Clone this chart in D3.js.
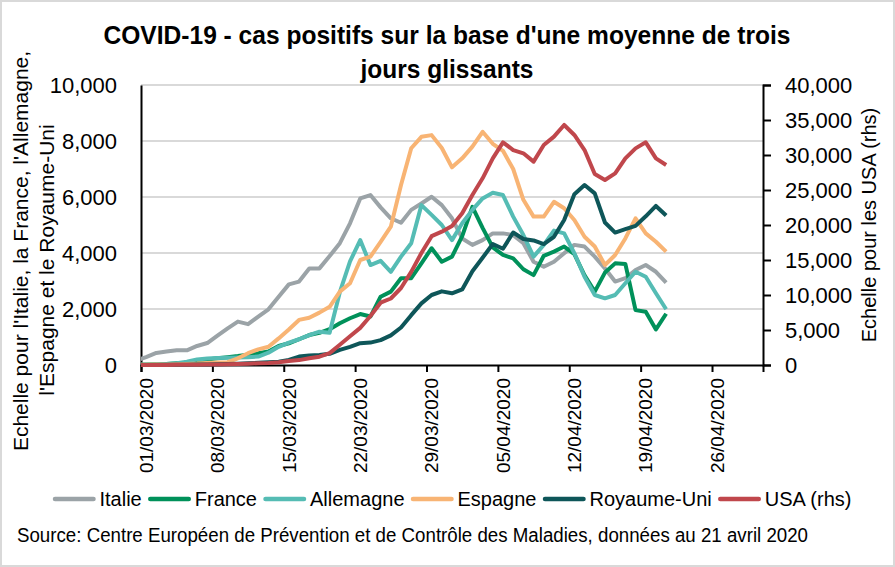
<!DOCTYPE html>
<html>
<head>
<meta charset="utf-8">
<script src="https://cdn.jsdelivr.net/npm/d3@7"></script>
<style>
  body { margin: 0; background: #fff; }
  text { font-family: "Liberation Sans", Arial, sans-serif; fill: #000; }
</style>
</head>
<body>
<div id="chart"></div>
<script>
// daily values, 29/02/2020 -> 21/04/2020 (3-day moving average)
const startDay = new Date(2020, 1, 29);
const endDay = new Date(2020, 3, 22);
const dates = d3.timeDay.range(startDay, endDay);

const italie = [150, 285, 430, 480, 525, 525, 680, 785, 1050, 1310, 1550, 1460, 1725, 1990, 2440, 2880, 2980, 3450, 3450, 3890, 4350, 5060, 5950, 6070, 5630, 5240, 5080, 5540, 5770, 6010, 5710, 5240, 4520, 4290, 4460, 4700, 4700, 4640, 4350, 3690, 3510, 3690, 3990, 4290, 4230, 3870, 3450, 2980, 3100, 3390, 3570, 3330, 2940];
const france = [10, 20, 30, 40, 60, 80, 150, 200, 240, 280, 320, 370, 420, 480, 680, 775, 920, 1070, 1150, 1280, 1490, 1670, 1820, 1730, 2440, 2620, 3100, 3100, 3630, 4170, 3690, 3870, 4600, 5650, 4900, 4200, 3930, 3810, 3420, 3210, 3900, 4050, 4230, 3960, 3200, 2620, 3300, 3630, 3610, 1960, 1900, 1270, 1830];
const allemagne = [5, 10, 20, 40, 60, 120, 200, 230, 250, 260, 270, 280, 300, 440, 650, 800, 920, 1070, 1190, 1150, 2600, 3700, 4460, 3570, 3720, 3330, 3870, 4350, 5710, 5360, 5000, 4460, 5060, 5540, 5950, 6150, 6070, 5300, 4640, 3870, 4290, 4800, 4700, 3990, 3150, 2500, 2380, 2500, 2920, 3330, 3150, 2560, 1990];
const espagne = [5, 10, 15, 20, 30, 40, 50, 70, 90, 100, 240, 420, 560, 650, 950, 1270, 1610, 1690, 1870, 2080, 2620, 2920, 3750, 3870, 4400, 4940, 6430, 7740, 8150, 8210, 7750, 7060, 7380, 7800, 8330, 7900, 7650, 7000, 5900, 5300, 5300, 5830, 5600, 5180, 4580, 4230, 3570, 3930, 4520, 5240, 4700, 4400, 4050];
const royaumeUni = [2, 3, 4, 5, 8, 10, 15, 20, 25, 35, 45, 60, 80, 100, 120, 180, 300, 340, 360, 400, 540, 650, 780, 800, 890, 1060, 1340, 1780, 2200, 2500, 2630, 2560, 2700, 3350, 3830, 4320, 4150, 4730, 4500, 4450, 4320, 4580, 5180, 6100, 6430, 6130, 5090, 4730, 4850, 4970, 5310, 5680, 5340];
const usa = [5, 8, 10, 15, 20, 30, 40, 60, 80, 100, 130, 190, 250, 300, 400, 570, 700, 960, 1190, 1700, 2900, 4100, 5300, 7000, 8900, 9500, 11000, 13300, 16000, 18400, 19050, 19860, 21670, 24290, 26670, 29520, 31810, 30710, 30240, 29050, 31430, 32620, 34290, 32860, 30710, 27290, 26430, 27380, 29520, 30950, 31810, 29520, 28570];

const xTickLabels = ['01/03/2020', '08/03/2020', '15/03/2020', '22/03/2020', '29/03/2020', '05/04/2020', '12/04/2020', '19/04/2020', '26/04/2020'];
const leftTicks = [0, 2000, 4000, 6000, 8000, 10000];
const rightTicks = [0, 5000, 10000, 15000, 20000, 25000, 30000, 35000, 40000];

const series = [
  { name: 'Italie', values: italie, color: '#9ba3a7', axis: 'left' },
  { name: 'France', values: france, color: '#00915a', axis: 'left' },
  { name: 'Allemagne', values: allemagne, color: '#55bcb4', axis: 'left' },
  { name: 'Espagne', values: espagne, color: '#f8b474', axis: 'left' },
  { name: 'Royaume-Uni', values: royaumeUni, color: '#0e5659', axis: 'left' },
  { name: 'USA (rhs)', values: usa, color: '#c0474c', axis: 'right' }
];

const width = 895, height = 567;
const plot = { left: 141, right: 763, top: 85, bottom: 365 };
const parseDay = d3.timeParse('%d/%m/%Y');
const fmt = d3.format(',');

const x = d3.scaleTime()
  .domain([new Date(2020, 2, 1), new Date(2020, 4, 1)])
  .range([plot.left, plot.right]);
const yL = d3.scaleLinear().domain([0, 10000]).range([plot.bottom, plot.top]);
const yR = d3.scaleLinear().domain([0, 40000]).range([plot.bottom, plot.top]);
// each day sits in the middle of its slot
const mid = d => d3.timeHour.offset(d, 12);

const svg = d3.select('#chart').append('svg')
  .attr('width', width)
  .attr('height', height);

svg.append('rect')
  .attr('x', 1).attr('y', 1)
  .attr('width', width - 2).attr('height', height - 2)
  .attr('fill', '#fff')
  .attr('stroke', '#d9d9d9')
  .attr('stroke-width', 2);

// title
const title = svg.append('text')
  .attr('text-anchor', 'middle')
  .style('font-weight', 'bold')
  .style('font-size', '26px');
title.append('tspan').attr('x', 447).attr('y', 44)
  .attr('textLength', 687).attr('lengthAdjust', 'spacingAndGlyphs')
  .text("COVID-19 - cas positifs sur la base d'une moyenne de trois");
title.append('tspan').attr('x', 447).attr('y', 78)
  .attr('textLength', 173).attr('lengthAdjust', 'spacingAndGlyphs')
  .text('jours glissants');

// gridlines
svg.append('g')
  .selectAll('line')
  .data(leftTicks.filter(d => d > 0))
  .join('line')
  .attr('x1', plot.left).attr('x2', plot.right)
  .attr('y1', d => yL(d)).attr('y2', d => yL(d))
  .attr('stroke', '#d9d9d9')
  .attr('stroke-width', 2);

// left axis
const gL = svg.append('g')
  .attr('transform', `translate(${plot.left},0)`)
  .call(d3.axisLeft(yL).tickValues(leftTicks).tickSize(0).tickPadding(24).tickFormat(fmt));
gL.select('.domain').attr('stroke', '#000').attr('stroke-width', 2);
gL.selectAll('text').style('font-size', '22px').style('font-family', '"Liberation Sans", Arial, sans-serif');

// right axis
const gR = svg.append('g')
  .attr('transform', `translate(${plot.right},0)`)
  .call(d3.axisRight(yR).tickValues(rightTicks).tickSizeOuter(0).tickSize(8).tickPadding(14).tickFormat(fmt));
gR.select('.domain').attr('stroke', '#000').attr('stroke-width', 2);
gR.selectAll('line').attr('stroke', '#000').attr('stroke-width', 2);
gR.selectAll('text').style('font-size', '22px').style('font-family', '"Liberation Sans", Arial, sans-serif');

// bottom axis
const weekDates = xTickLabels.map(parseDay);
const gB = svg.append('g')
  .attr('transform', `translate(0,${plot.bottom})`)
  .call(d3.axisBottom(x).tickValues(weekDates).tickSizeOuter(0).tickSize(7).tickFormat(''));
gB.select('.domain').attr('stroke', '#000').attr('stroke-width', 2);
gB.selectAll('line').attr('stroke', '#000').attr('stroke-width', 2);

svg.append('g')
  .selectAll('text')
  .data(xTickLabels)
  .join('text')
  .attr('transform', d => `translate(${x(mid(parseDay(d)))},378) rotate(-90)`)
  .attr('text-anchor', 'end')
  .attr('dy', '0.35em')
  .style('font-size', '19px')
  .text(d => d);

// axis titles
svg.append('text')
  .attr('transform', 'translate(28,251) rotate(-90)')
  .attr('text-anchor', 'middle')
  .style('font-size', '21px')
  .text("Echelle pour l'Italie, la France, l'Allemagne,");
svg.append('text')
  .attr('transform', 'translate(54,260) rotate(-90)')
  .attr('text-anchor', 'middle')
  .style('font-size', '21px')
  .text("l'Espagne et le Royaume-Uni");
svg.append('text')
  .attr('transform', 'translate(876,225) rotate(-90)')
  .attr('text-anchor', 'middle')
  .style('font-size', '20px')
  .text('Echelle pour les USA (rhs)');

// series
svg.append('clipPath').attr('id', 'plotclip')
  .append('rect')
  .attr('x', plot.left).attr('y', 0)
  .attr('width', plot.right - plot.left).attr('height', height);

const gLines = svg.append('g').attr('clip-path', 'url(#plotclip)');
series.forEach(s => {
  const yScale = s.axis === 'left' ? yL : yR;
  const line = d3.line()
    .x((d, i) => x(mid(dates[i])))
    .y(d => yScale(d));
  gLines.append('path')
    .datum(s.values)
    .attr('d', line)
    .attr('fill', 'none')
    .attr('stroke', s.color)
    .attr('stroke-width', 4)
    .attr('stroke-linejoin', 'round');
});

// legend
const legend = svg.append('g');
let lx = 53;
series.forEach(s => {
  legend.append('line')
    .attr('x1', lx + 2).attr('x2', lx + 40.5)
    .attr('y1', 499).attr('y2', 499)
    .attr('stroke', s.color)
    .attr('stroke-width', 4.5)
    .attr('stroke-linecap', 'round');
  const t = legend.append('text')
    .attr('x', lx + 46.5).attr('y', 506)
    .style('font-size', '20px')
    .text(s.name);
  lx += 46.5 + t.node().getComputedTextLength() + 6.5;
});

// source
svg.append('text')
  .attr('x', 17).attr('y', 542)
  .attr('textLength', 791).attr('lengthAdjust', 'spacingAndGlyphs')
  .style('font-size', '20px')
  .text('Source: Centre Européen de Prévention et de Contrôle des Maladies, données au 21 avril 2020');
</script>
</body>
</html>
